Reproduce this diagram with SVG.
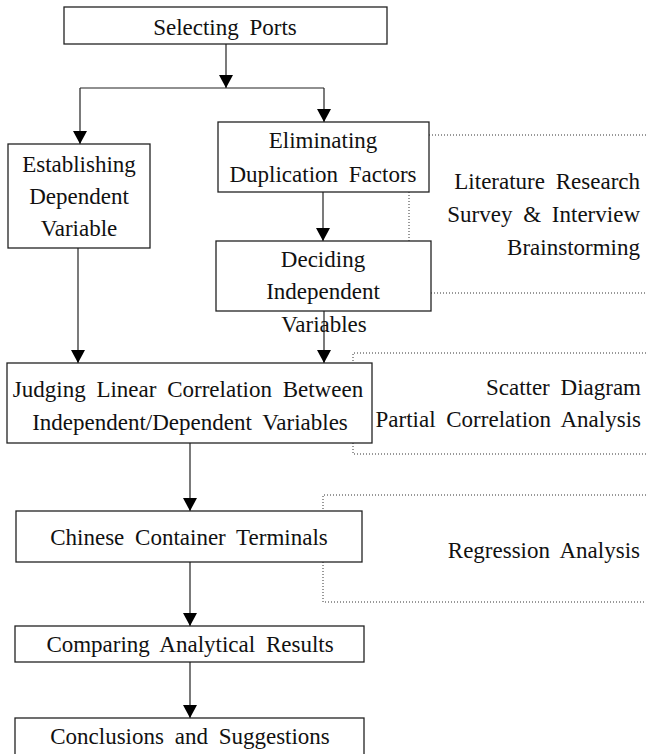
<svg xmlns="http://www.w3.org/2000/svg" width="646" height="754" viewBox="0 0 646 754">
<style>
  .box { fill: #ffffff; stroke: #222222; stroke-width: 1.3; }
  .t { font-family: "Liberation Serif", "Times New Roman", serif; font-size: 23px; fill: #111111; word-spacing: 5px; }
  .c { text-anchor: middle; }
  .r { text-anchor: end; }
  .edge { fill: none; stroke: #222222; stroke-width: 1.2; }
  .dot { fill: none; stroke: #333333; stroke-width: 1; stroke-dasharray: 1 2; }
</style>
<defs>
  <marker id="arrd" markerUnits="userSpaceOnUse" markerWidth="15" markerHeight="14" refX="14" refY="7.5" orient="auto" viewBox="0 0 14 15">
    <path d="M0,0 L14,7.5 L0,15 Z" fill="#000000"/>
  </marker>
</defs>

<g id="connectors">
  <path class="edge" d="M226,44 V88" marker-end="url(#arrd)"/>
  <path class="edge" d="M80,88 H324"/>
  <path class="edge" d="M80,88 V144" marker-end="url(#arrd)"/>
  <path class="edge" d="M324,88 V122" marker-end="url(#arrd)"/>
  <path class="edge" d="M323,192 V241" marker-end="url(#arrd)"/>
  <path class="edge" d="M78,248 V363" marker-end="url(#arrd)"/>
  <path class="edge" d="M324,311 V363" marker-end="url(#arrd)"/>
  <path class="edge" d="M190,443 V511" marker-end="url(#arrd)"/>
  <path class="edge" d="M190,562 V626" marker-end="url(#arrd)"/>
  <path class="edge" d="M190,662 V718" marker-end="url(#arrd)"/>
</g>

<g id="brackets">
  <path class="dot" d="M429,135 H646"/>
  <path class="dot" d="M409,192 V241"/>
  <path class="dot" d="M431,293 H646"/>
  <path class="dot" d="M646,353 H353 V363 M353,443 V454 H646"/>
  <path class="dot" d="M646,495 H323 V511 M323,562 V602 H646"/>
</g>

<g id="n-selecting">
  <rect class="box" x="64" y="7" width="323" height="37"/>
  <text class="t c" x="225" y="35">Selecting Ports</text>
</g>

<g id="n-establishing">
  <rect class="box" x="8" y="144" width="142" height="104"/>
  <text class="t c" x="79" y="172">Establishing</text>
  <text class="t c" x="79" y="204">Dependent</text>
  <text class="t c" x="79" y="236">Variable</text>
</g>

<g id="n-eliminating">
  <rect class="box" x="218" y="122" width="211" height="70"/>
  <text class="t c" x="323" y="148">Eliminating</text>
  <text class="t c" x="323" y="182">Duplication Factors</text>
</g>

<g id="n-deciding">
  <rect class="box" x="216" y="241" width="215" height="70"/>
  <text class="t c" x="323" y="267">Deciding</text>
  <text class="t c" x="323" y="299">Independent</text>
  <text class="t c" x="324" y="332">Variables</text>
</g>

<g id="n-judging">
  <rect class="box" x="7" y="363" width="365" height="80"/>
  <text class="t c" x="188" y="397">Judging Linear Correlation Between</text>
  <text class="t c" x="190" y="430">Independent/Dependent Variables</text>
</g>

<g id="n-chinese">
  <rect class="box" x="16" y="511" width="346" height="51"/>
  <text class="t c" x="189" y="545">Chinese Container Terminals</text>
</g>

<g id="n-comparing">
  <rect class="box" x="15" y="626" width="349" height="36"/>
  <text class="t c" x="190" y="652">Comparing Analytical Results</text>
</g>

<g id="n-conclusions">
  <rect class="box" x="15" y="718" width="349" height="40"/>
  <text class="t c" x="190" y="744">Conclusions and Suggestions</text>
</g>

<g id="note-literature">
  <text class="t r" x="640" y="189">Literature Research</text>
  <text class="t r" x="640" y="222">Survey &amp; Interview</text>
  <text class="t r" x="640" y="255">Brainstorming</text>
</g>

<g id="note-scatter">
  <text class="t r" x="641" y="395">Scatter Diagram</text>
  <text class="t r" x="641" y="427">Partial Correlation Analysis</text>
</g>

<g id="note-regression">
  <text class="t r" x="640" y="558">Regression Analysis</text>
</g>
</svg>
